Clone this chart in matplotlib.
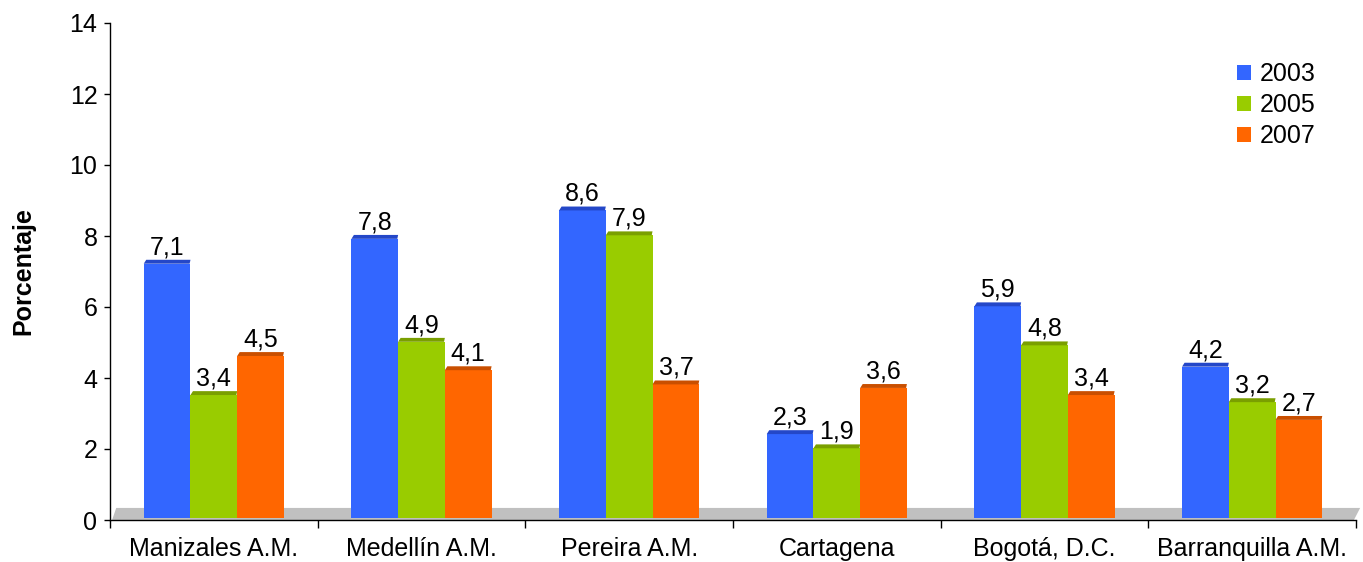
import matplotlib
matplotlib.use("Agg")
import matplotlib.pyplot as plt
from matplotlib.patches import Polygon, Patch

plt.rcParams['font.family'] = ['Liberation Sans', 'DejaVu Sans']

categories = ['Manizales A.M.', 'Medellín A.M.', 'Pereira A.M.', 'Cartagena',
              'Bogotá, D.C.', 'Barranquilla A.M.']
years = ['2003', '2005', '2007']
v2003 = [7.1, 7.8, 8.6, 2.3, 5.9, 4.2]
v2005 = [3.4, 4.9, 7.9, 1.9, 4.8, 3.2]
v2007 = [4.5, 4.1, 3.7, 3.6, 3.4, 2.7]
y_ticks = [0, 2, 4, 6, 8, 10, 12, 14]

series = [v2003, v2005, v2007]
colors = ['#3366FF', '#99CC00', '#FF6600']
top_colors = ['#2447C8', '#7A9F00', '#C94F00']
fs = 18

fig = plt.figure(figsize=(13.63, 5.62), dpi=100)
ax = fig.add_axes([110 / 1363, 42 / 562, 1246 / 1363, 497 / 562])

# fake 3D floor
floor = Polygon([(0.01, 0), (0.03, 0.34), (6.02, 0.34), (5.99, 0)],
                closed=True, facecolor='#C0C0C0', edgecolor='none',
                zorder=1, clip_on=False)
ax.add_patch(floor)

w = 0.225
base = 0.06
dz = 0.12
for k, vals in enumerate(series):
    for i, v in enumerate(vals):
        x0 = i + 0.5 + (k - 1.5) * w
        x1 = x0 + w
        ax.bar(x0, v + dz - base, width=w, bottom=base, align='edge',
               color=colors[k], edgecolor='none', zorder=2 + k)
        top = Polygon([(x0, v + dz), (x0 + 0.012, v + dz + 0.11),
                       (x1, v + dz + 0.11), (x1 - 0.004, v + dz)],
                      closed=True, facecolor=top_colors[k], edgecolor='none',
                      zorder=2 + k)
        ax.add_patch(top)
        ax.annotate(f'{v:.1f}'.replace('.', ','), (x0 + w / 2, v + dz + 0.11),
                    xytext=(0, 4), textcoords='offset points',
                    ha='center', va='baseline', fontsize=fs, zorder=6)

ax.set_xlim(0, 6)
ax.set_ylim(0, 14)
ax.set_yticks(y_ticks)
ax.set_yticklabels([str(t) for t in y_ticks], fontsize=fs)
ax.tick_params(axis='y', direction='out', length=4, width=1, pad=5)

ax.set_xticks(range(7))
ax.set_xticklabels([])
ax.set_xticks([i + 0.5 for i in range(6)], minor=True)
ax.set_xticklabels(categories, minor=True, fontsize=fs)
ax.tick_params(axis='x', which='major', direction='out', length=6, width=1)
ax.tick_params(axis='x', which='minor', length=0, pad=12)

for s in ['top', 'right']:
    ax.spines[s].set_visible(False)
ax.spines['left'].set_linewidth(1)
ax.spines['bottom'].set_linewidth(1)

ax.set_ylabel('Porcentaje', fontsize=fs, fontweight='bold', labelpad=25)

handles = [Patch(facecolor=c, edgecolor='none') for c in colors]
ax.legend(handles, years, loc='upper left', bbox_to_anchor=(1237 / 1363, 1 - 62 / 562),
          bbox_transform=fig.transFigure, frameon=False, fontsize=fs,
          handlelength=0.55, handleheight=0.55, handletextpad=0.35,
          labelspacing=0.28, borderpad=0, borderaxespad=0)

fig.savefig('out.png', dpi=100)
